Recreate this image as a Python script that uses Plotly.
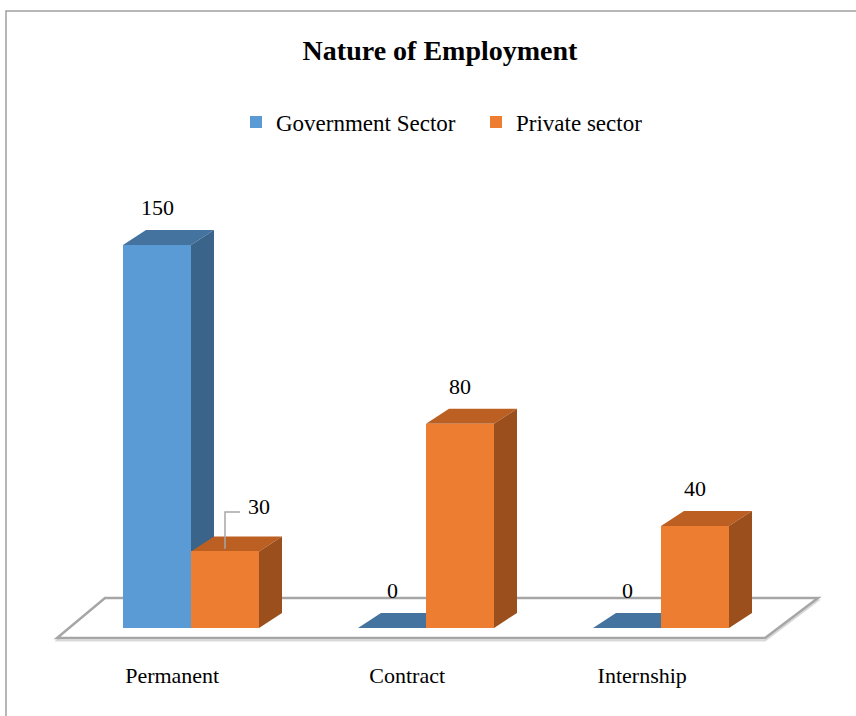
import plotly.graph_objects as go

# ---- data -------------------------------------------------------------
categories = ["Permanent", "Contract", "Internship"]
series_names = ["Government Sector", "Private sector"]
government = [150, 0, 0]
private = [30, 80, 40]

# ---- styling ----------------------------------------------------------
FONT = "Liberation Serif"
FRONT = ["#5B9BD5", "#ED7D31"]
TOP = ["#44739F", "#BC5F22"]
SIDE = ["#3A6489", "#9A4F1C"]
EDGE = "#A6A6A6"

# canvas and plot-area geometry
W, H = 856, 716
ML, MR, MT, MB = 40, 16, 140, 56
PLOT_W = W - ML - MR
PLOT_H = H - MT - MB
X_PX = 235.0          # pixels per category step
Y_PX = 2.553          # pixels per value unit
X0_PX = 191 - ML      # first category centre, pixels from plot left
Y0_PX = 628 - MT      # zero line, pixels from plot top

x_range = [-X0_PX / X_PX, (PLOT_W - X0_PX) / X_PX]
y_range = [-(PLOT_H - Y0_PX) / Y_PX, Y0_PX / Y_PX]

BAR_W = 68 / X_PX     # width of one column
DX = 23 / X_PX        # depth offset (x)
DY = 15 / Y_PX        # depth offset (y)
LABEL_GAP = 14.7      # value-label height above the column top
TICK_SHIFT = -0.08    # category labels sit under the floor front


def path(points):
    return "M " + " L ".join(f"{x},{y}" for x, y in points) + " Z"


xs = list(range(len(categories)))
fig = go.Figure()

shapes = []
# floor slab under the columns
n = len(categories)
fl_front = -10 / Y_PX
fl_back = 30 / Y_PX
floor = [(-0.570, fl_front), (n - 1 + 0.443, fl_front),
         (n - 1 + 0.668, fl_back), (-0.366, fl_back)]
shapes.append(dict(type="path", path=path([(x, y - 1.0) for x, y in floor]),
                   xref="x", yref="y", layer="below",
                   line=dict(color="#D9D9D9", width=2), fillcolor="white"))
shapes.append(dict(type="path", path=path(floor), xref="x", yref="y",
                   layer="below", line=dict(color=EDGE, width=2.5),
                   fillcolor="white"))

# top and side faces of every column (front faces are the bar traces)
for s, values in enumerate([government, private]):
    offset = -BAR_W if s == 0 else 0.0
    for i, v in zip(xs, values):
        x0 = i + offset
        x1 = x0 + BAR_W
        top = [(x0, v), (x1, v), (x1 + DX, v + DY), (x0 + DX, v + DY)]
        shapes.append(dict(type="path", path=path(top), xref="x", yref="y",
                           layer="below", line=dict(width=0),
                           fillcolor=TOP[s]))
        if v > 0:
            side = [(x1, 0), (x1, v), (x1 + DX, v + DY), (x1 + DX, DY)]
            shapes.append(dict(type="path", path=path(side), xref="x",
                               yref="y", layer="below", line=dict(width=0),
                               fillcolor=SIDE[s]))

for s, values in enumerate([government, private]):
    fig.add_trace(go.Bar(
        x=xs, y=values, name=series_names[s],
        width=BAR_W, offset=-BAR_W if s == 0 else 0.0,
        marker=dict(color=FRONT[s], line=dict(width=0)),
        hoverinfo="x+y",
    ))

# value labels; the short private "Permanent" column carries a leader line
annotations = []
for s, values in enumerate([government, private]):
    centre = -BAR_W / 2 if s == 0 else BAR_W / 2
    for i, v in zip(xs, values):
        cx = i + centre
        if s == 1 and i == 0:
            shapes.append(dict(type="path", xref="x", yref="y",
                               path=f"M {cx},{v + 1} L {cx},{v + 15.4} "
                                    f"L {cx + 0.064},{v + 15.4}",
                               line=dict(color=EDGE, width=1.5)))
            annotations.append(dict(x=cx + 0.145, y=v + 17.4, text=str(v),
                                    showarrow=False, xref="x", yref="y",
                                    font=dict(family=FONT, size=22,
                                              color="black")))
        else:
            annotations.append(dict(x=cx, y=v + LABEL_GAP, text=str(v),
                                    showarrow=False, xref="x", yref="y",
                                    font=dict(family=FONT, size=22,
                                              color="black")))

# outer chart frame
shapes.append(dict(type="rect", xref="paper", yref="paper",
                   x0=(6 - ML) / PLOT_W, x1=1.2,
                   y0=-0.3, y1=(PLOT_H + MT - 11) / PLOT_H,
                   line=dict(color="#A0A0A0", width=1.5)))

fig.update_layout(
    width=W, height=H,
    margin=dict(l=ML, r=MR, t=MT, b=MB),
    font=dict(family=FONT, size=22, color="black"),
    paper_bgcolor="white", plot_bgcolor="rgba(0,0,0,0)",
    title=dict(text="<b>Nature of Employment</b>", xref="container",
               x=440 / W, xanchor="center", y=1 - 50 / H, yanchor="middle",
               font=dict(family=FONT, size=28, color="black")),
    legend=dict(orientation="h", xref="paper", yref="paper",
                x=(236 - ML) / PLOT_W, xanchor="left",
                y=(PLOT_H + MT - 122) / PLOT_H, yanchor="middle",
                font=dict(family=FONT, size=23, color="black"),
                entrywidthmode="pixels", entrywidth=195,
                bgcolor="rgba(0,0,0,0)"),
    xaxis=dict(range=x_range, showgrid=False, zeroline=False,
               showline=False, ticks="",
               tickvals=[i + TICK_SHIFT for i in xs], ticktext=categories,
               tickfont=dict(family=FONT, size=22, color="black"),
               fixedrange=True),
    yaxis=dict(range=y_range, visible=False, fixedrange=True),
    shapes=shapes, annotations=annotations,
    bargap=0, showlegend=True,
)

fig.write_html("out.html")
